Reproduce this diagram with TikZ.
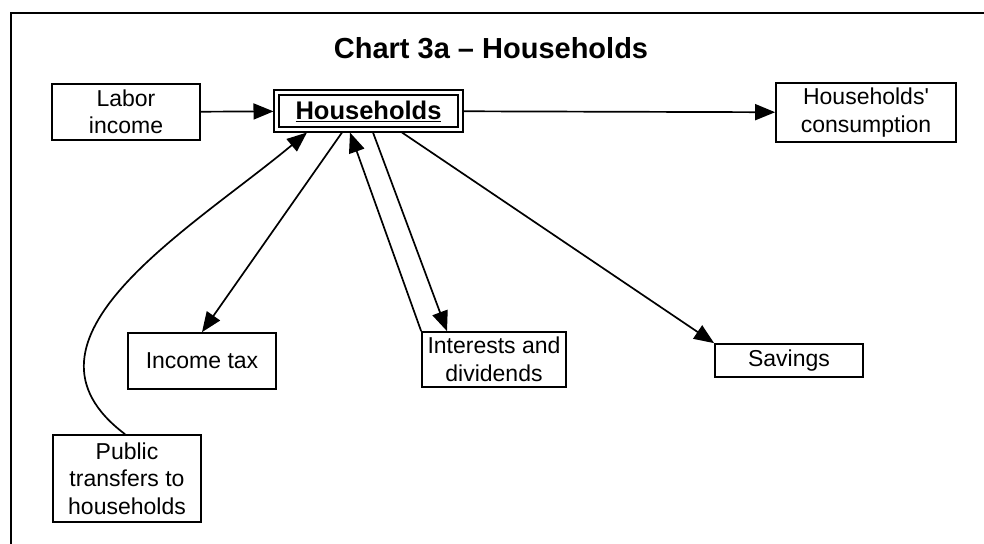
\documentclass[tikz,border=0pt]{standalone}
\usepackage{fontspec}
\setmainfont{Liberation Sans}
\usetikzlibrary{arrows.meta}

\begin{document}
\begin{tikzpicture}[x=1pt, y=-1pt,
  box/.style={draw, line width=1.7pt, align=center, inner sep=0pt, font=\fontsize{23}{27.5}\selectfont},
  flow/.style={line width=1.7pt, -{Triangle[length=20pt, width=16pt]}}]

\useasboundingbox (0,0) rectangle (984,543);

\draw[line width=2pt] (11,560) -- (11,13) -- (1000,13);

\node[font=\bfseries\fontsize{29}{34}\selectfont] (title) at (491,48) {Chart 3a – Households};

\node[draw, double, double distance=3pt, line width=1.7pt, minimum width=184pt, minimum height=37pt,
  outer sep=3pt, inner sep=0pt, font=\bfseries\fontsize{25.5}{30}\selectfont] (hh) at (368.5,111) {\underline{Households}};

\node[box, minimum width=148pt, minimum height=56pt] (lab) at (126,112) {Labor\\income};
\node[box, minimum width=180pt, minimum height=59pt] (cons) at (866,112.5) {Households\textquotesingle\\consumption};
\node[box, minimum width=148pt, minimum height=56pt] (tax) at (202,361) {Income tax};
\node[box, minimum width=144pt, minimum height=55pt] (intr) at (494,359.5) {Interests and\\dividends};
\node[box, minimum width=148pt, minimum height=33pt] (sav) at (789,360.5) {Savings};
\node[box, minimum width=148pt, minimum height=87pt] (pub) at (127,478.5) {Public\\transfers to\\households};

\draw[flow] (lab) -- (hh);
\draw[flow] (hh) -- (cons);
\draw[flow] ([xshift=-26.5pt]hh.south) -- (tax.north);
\draw[flow] (intr.north west) -- ([xshift=-18.5pt]hh.south);
\draw[flow] ([xshift=4.5pt]hh.south) -- ([xshift=-47pt]intr.north);
\draw[flow] ([xshift=33.5pt]hh.south) -- (sav.north west);
\draw[flow] ([xshift=-2pt]pub.north) .. controls (0,340) and (190,230) .. ([xshift=-61.5pt]hh.south);

\end{tikzpicture}
\end{document}
